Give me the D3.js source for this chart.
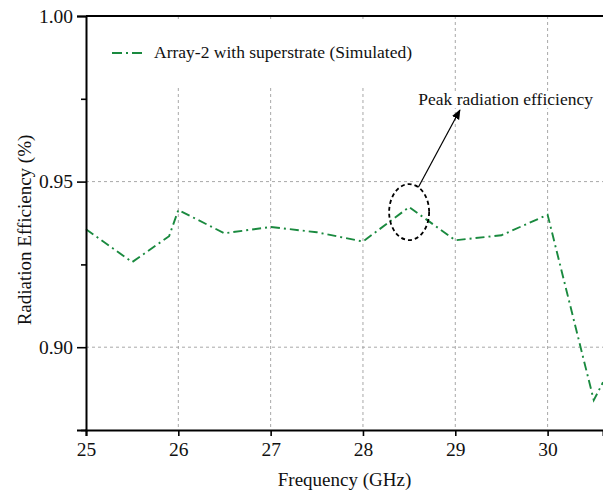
<html>
<head>
<style>
body {
  margin: 0;
  background: white;
  overflow: hidden;
}
svg {
  display: block;
}
svg text {
  font-family: "Liberation Serif", "Times New Roman", Times, "DejaVu Serif", serif;
}
.grid line {
  stroke: #a8a8a8;
  stroke-width: 1;
  stroke-dasharray: 3,3;
}
</style>
</head>
<body>
<script type="text/javascript" src="https://cdnjs.cloudflare.com/ajax/libs/d3/7.8.5/d3.min.js"></script>
<script type="text/javascript">
var frequencies = [25, 25.5, 25.9, 26, 26.5, 27, 27.5, 28, 28.5, 29, 29.5, 30, 30.5, 30.6]
var efficiency = [0.9356, 0.9257, 0.9335, 0.9414, 0.9344, 0.9363, 0.9347, 0.9319, 0.9423, 0.9323, 0.9338, 0.9400, 0.8840, 0.8894]

var xTicks = [25, 26, 27, 28, 29, 30]
var yTicks = [0.90, 0.95, 1.00]
var yMinorTicks = [0.875, 0.925, 0.975]

var seriesName = "Array-2 with superstrate (Simulated)"
var annotationText = "Peak radiation efficiency"

var width = 603,
    height = 499,
    plotLeft = 86,
    plotTop = 16,
    plotBottom = 430;

var green = "#1a8a3f"
var dashDot = "9,4,2,4"

var svg = d3.select("body")
  .append("svg")
  .attr("width", width)
  .attr("height", height)

var x = d3.scaleLinear().domain([25, 30.6]).range([plotLeft, width])
var y = d3.scaleLinear().domain([0.875, 1.00]).range([plotBottom, plotTop])

// grid
var grid = svg.append("g").attr("class", "grid")

grid.selectAll(".vgrid")
  .data(xTicks.slice(1))
  .enter().append("line")
  .attr("x1", function(d) { return x(d) })
  .attr("x2", function(d) { return x(d) })
  .attr("y1", plotTop)
  .attr("y2", plotBottom)

grid.selectAll(".hgrid")
  .data(yTicks.slice(0, 2))
  .enter().append("line")
  .attr("x1", plotLeft)
  .attr("x2", width)
  .attr("y1", function(d) { return y(d) })
  .attr("y2", function(d) { return y(d) })

// legend box hides the grid behind it
svg.append("rect")
  .attr("x", plotLeft + 1)
  .attr("y", plotTop + 4)
  .attr("width", 338)
  .attr("height", 67)
  .attr("fill", "white")

svg.append("line")
  .attr("x1", 112)
  .attr("x2", 145)
  .attr("y1", 53)
  .attr("y2", 53)
  .attr("stroke", green)
  .attr("stroke-width", 1.8)
  .attr("stroke-dasharray", "10,4,2,4")

svg.append("text")
  .attr("x", 154)
  .attr("y", 58)
  .attr("font-size", 17.5)
  .attr("fill", "#111")
  .text(seriesName)

// annotation label (white background over grid)
var note = { textX: 28.6, textY: 0.9731, arrowFrom: [28.6, 0.9483], arrowTo: [29.05, 0.9716], ellipse: [28.5, 0.9408] }

var noteBg = svg.append("rect").attr("fill", "white")

var noteText = svg.append("text")
  .attr("x", x(note.textX))
  .attr("y", y(note.textY))
  .attr("font-size", 17.5)
  .attr("fill", "#111")
  .text(annotationText)

var bb = noteText.node().getBBox()
noteBg
  .attr("x", bb.x - 1)
  .attr("y", bb.y + 2)
  .attr("width", bb.width + 2)
  .attr("height", bb.height - 3)

// data line
var line = d3.line()
  .x(function(d) { return x(d[0]) })
  .y(function(d) { return y(d[1]) })

svg.append("path")
  .datum(d3.zip(frequencies, efficiency))
  .attr("d", line)
  .attr("fill", "none")
  .attr("stroke", green)
  .attr("stroke-width", 1.9)
  .attr("stroke-dasharray", dashDot)

// ellipse + arrow
svg.append("ellipse")
  .attr("cx", x(note.ellipse[0]))
  .attr("cy", y(note.ellipse[1]))
  .attr("rx", 20)
  .attr("ry", 28)
  .attr("fill", "none")
  .attr("stroke", "black")
  .attr("stroke-width", 1.8)
  .attr("stroke-dasharray", "4,3")

svg.append("defs").append("marker")
  .attr("id", "arrow")
  .attr("viewBox", "0 0 10 10")
  .attr("refX", 9)
  .attr("refY", 5)
  .attr("markerWidth", 10)
  .attr("markerHeight", 10)
  .attr("markerUnits", "userSpaceOnUse")
  .attr("orient", "auto")
  .append("path")
  .attr("d", "M0,1 L10,5 L0,9 Z")
  .attr("fill", "black")

svg.append("line")
  .attr("x1", x(note.arrowFrom[0]))
  .attr("y1", y(note.arrowFrom[1]))
  .attr("x2", x(note.arrowTo[0]))
  .attr("y2", y(note.arrowTo[1]))
  .attr("stroke", "black")
  .attr("stroke-width", 1.2)
  .attr("marker-end", "url(#arrow)")

// axes
svg.append("g")
  .attr("transform", "translate(0 " + plotBottom + ")")
  .call(d3.axisBottom(x).tickValues(xTicks).tickSize(6).tickPadding(6).tickFormat(d3.format("d")))

svg.append("g")
  .attr("transform", "translate(" + plotLeft + " 0)")
  .call(d3.axisLeft(y).tickValues(yTicks).tickSize(9).tickPadding(4).tickFormat(d3.format(".2f")))

svg.append("g")
  .attr("class", "minor")
  .attr("transform", "translate(" + plotLeft + " 0)")
  .call(d3.axisLeft(y).tickValues(yMinorTicks).tickSize(5).tickFormat(""))
  .select(".domain").remove()

svg.selectAll("g").attr("font-family", null)
svg.selectAll(".domain").attr("stroke", "black").attr("stroke-width", 2)
svg.selectAll(".tick line").attr("stroke", "black").attr("stroke-width", 1.6)
svg.selectAll(".tick text")
  .attr("font-size", 19.5)
  .attr("fill", "#111")

// top border
svg.append("line")
  .attr("x1", plotLeft)
  .attr("x2", width)
  .attr("y1", plotTop)
  .attr("y2", plotTop)
  .attr("stroke", "black")
  .attr("stroke-width", 2)

// axis titles
svg.append("text")
  .attr("x", (plotLeft + width) / 2)
  .attr("y", 486)
  .attr("text-anchor", "middle")
  .attr("font-size", 19)
  .attr("fill", "#111")
  .text("Frequency (GHz)")

svg.append("text")
  .attr("transform", "translate(31 " + ((plotTop + plotBottom) / 2 + 7) + ") rotate(-90)")
  .attr("text-anchor", "middle")
  .attr("font-size", 19)
  .attr("fill", "#111")
  .text("Radiation Efficiency (%)")
</script>
</body>
</html>
